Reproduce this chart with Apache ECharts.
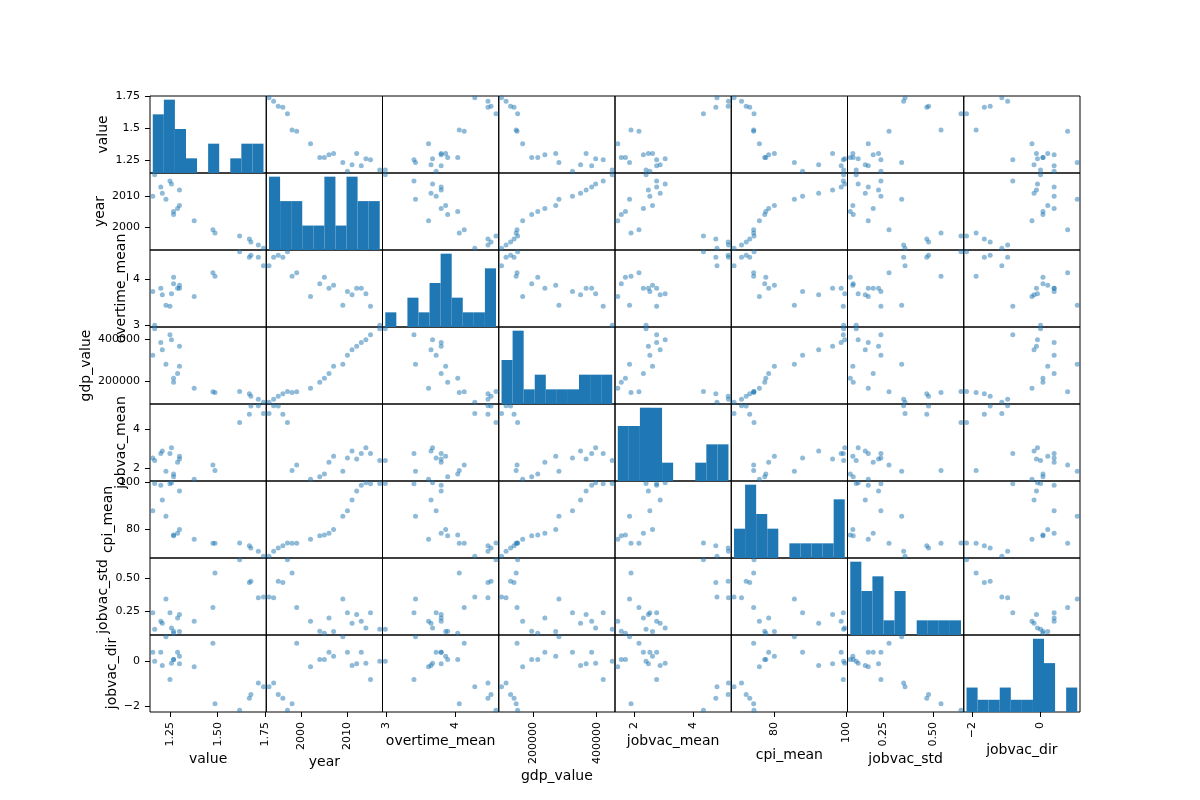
<!DOCTYPE html>
<html><head><meta charset="utf-8">
<script src="https://cdn.jsdelivr.net/npm/echarts@6/dist/echarts.min.js"></script>
<style>html,body{margin:0;padding:0;background:#fff}#c{width:1200px;height:800px}</style>
</head><body><div id="c"></div><script>
// ---- data (one row per year) ----
const columns = ['value','year','overtime_mean','gdp_value','jobvac_mean','cpi_mean','jobvac_std','jobvac_dir'];
const year = [1993,1994,1995,1996,1997,1998,1999,2002,2004,2005,2006,2007,2009,2010,2011,2012,2013,2014,2015,2017];
const value = [1.74,1.713,1.674,1.666,1.615,1.486,1.475,1.377,1.269,1.269,1.29,1.30,1.229,1.16,1.21,1.30,1.202,1.258,1.25,1.17];
const overtime_mean = [4.29,4.481,4.525,4.481,4.597,4.065,4.137,3.62,3.897,4.043,3.803,3.868,3.431,3.730,3.656,3.803,3.803,3.678,3.409,2.993];
const gdp_value = [100000,114300,128600,139500,150800,146200,149000,166700,195200,214300,236700,271000,281000,323800,349200,366700,384300,396800,420600,449100];
const jobvac_mean = [4.82,5.21,5.20,4.78,4.36,1.90,2.17,1.45,1.57,1.71,2.32,2.63,1.85,2.54,2.89,2.49,2.77,3.06,2.77,2.41];
const cpi_mean = [68.7,70.8,72.1,73.1,74.3,74.2,74.2,75.8,77.3,77.6,78.4,80.0,85.6,87.9,92.4,96.3,98.7,99.7,99.3,99.4];
const jobvac_std = [0.359,0.352,0.478,0.469,0.642,0.541,0.278,0.173,0.097,0.082,0.198,0.095,0.342,0.237,0.158,0.225,0.173,0.122,0.237,0.112];
const jobvac_dir = [-1.13,-0.96,-1.47,-1.64,-2.16,-1.88,0.79,-0.25,0.07,0.07,0.396,0.21,1.07,0.396,-0.19,-0.12,0.396,-0.09,-0.81,0];

// ---- tick values and labels ----
const tickValues = [[1.25,1.5,1.75],[2000,2010],[3,4],[200000,400000],[2,4],[80,100],[0.25,0.5],[-2,0]];
const xTickLabels = [['1.25','1.50','1.75'],['2000','2010'],['3','4'],['200000','400000'],['2','4'],['80','100'],['0.25','0.50'],['\u22122','0']];
const yTickLabels = [['1.25','1.5','1.75'],['2000','2010'],['3','4'],['200000','400000'],['2','4'],['80','100'],['0.25','0.50'],['\u22122','0']];
const xNameGaps = [40,43,22,57,22,36,40,31];
const yNameGaps = [40,43,22,57,22,35,40,31];

const data = [value, year, overtime_mean, gdp_value, jobvac_mean, cpi_mean, jobvac_std, jobvac_dir];
const N = columns.length;
const L = 150, T = 96, W = 930 / N, H = 616 / N;
const FONT = 'DejaVu Sans';

const ranges = data.map(arr => {
  const mn = Math.min(...arr), mx = Math.max(...arr), d = (mx - mn) * 0.025;
  return [mn - d, mx + d];
});

function hist(arr, nb) {
  const mn = Math.min(...arr), mx = Math.max(...arr), w = (mx - mn) / nb;
  const counts = new Array(nb).fill(0);
  arr.forEach(v => { let k = Math.floor((v - mn) / w); if (k >= nb) k = nb - 1; counts[k]++; });
  return counts.map((c, k) => [mn + k * w, mn + (k + 1) * w, c]);
}

const grid = [], xAxis = [], yAxis = [], series = [];
const countAxes = [];
for (let i = 0; i < N; i++) {
  for (let j = 0; j < N; j++) {
    const k = i * N + j;
    grid.push({ left: L + j * W, top: T + i * H, width: W, height: H, show: true,
      borderColor: '#000', borderWidth: 1, backgroundColor: 'transparent', containLabel: false });
    const bottom = i === N - 1, left = j === 0;
    xAxis.push({ type: 'value', gridIndex: k, min: ranges[j][0], max: ranges[j][1], position: 'bottom',
      axisLine: { show: false, onZero: false }, splitLine: { show: false },
      axisTick: { show: bottom, customValues: tickValues[j], length: 5, lineStyle: { color: '#000', width: 1 } },
      axisLabel: { show: bottom, customValues: tickValues[j], rotate: 90, margin: 10, fontSize: 11, fontFamily: FONT, color: '#000',
        formatter: v => { const idx = tickValues[j].findIndex(t => Math.abs(t - v) < 1e-9); return idx >= 0 ? xTickLabels[j][idx] : ''; } },
      name: bottom ? columns[j] : '', nameLocation: 'middle', nameGap: xNameGaps[j],
      nameTextStyle: { fontSize: 14, fontFamily: FONT, color: '#000' } });
    yAxis.push({ type: 'value', gridIndex: k, min: ranges[i][0], max: ranges[i][1], position: 'left',
      axisLine: { show: false, onZero: false }, splitLine: { show: false },
      axisTick: { show: left, customValues: tickValues[i], length: 5, lineStyle: { color: '#000', width: 1 } },
      axisLabel: { show: left, customValues: tickValues[i], margin: 10, fontSize: 11, fontFamily: FONT, color: '#000',
        formatter: v => { const idx = tickValues[i].findIndex(t => Math.abs(t - v) < 1e-9); return idx >= 0 ? yTickLabels[i][idx] : ''; } },
      name: left ? columns[i] : '', nameLocation: 'middle', nameGap: yNameGaps[i], nameRotate: 90,
      nameTextStyle: { fontSize: 14, fontFamily: FONT, color: '#000' } });
    if (i === j) {
      const h = hist(data[i], 10);
      const maxC = Math.max(...h.map(b => b[2]));
      countAxes.push({ type: 'value', gridIndex: k, min: 0, max: maxC * 1.05, show: false });
      series.push({ type: 'custom', xAxisIndex: k, yAxisIndex: N * N + countAxes.length - 1,
        encode: { x: [0, 1], y: 2 }, data: h, silent: true,
        renderItem: (params, api) => {
          const p0 = api.coord([api.value(0), api.value(2)]);
          const p1 = api.coord([api.value(1), 0]);
          return { type: 'rect', shape: { x: p0[0], y: p0[1], width: p1[0] - p0[0], height: p1[1] - p0[1] },
            style: { fill: '#1f77b4' } };
        } });
    } else {
      series.push({ type: 'scatter', xAxisIndex: k, yAxisIndex: k, silent: true,
        symbolSize: 5, itemStyle: { color: '#1f77b4', opacity: 0.5 },
        data: data[j].map((x, r) => [x, data[i][r]]) });
    }
  }
}

const chart = echarts.init(document.getElementById('c'), null, { renderer: 'canvas' });
chart.setOption({ animation: false, backgroundColor: '#fff', grid, xAxis, yAxis: yAxis.concat(countAxes), series });
</script></body></html>
